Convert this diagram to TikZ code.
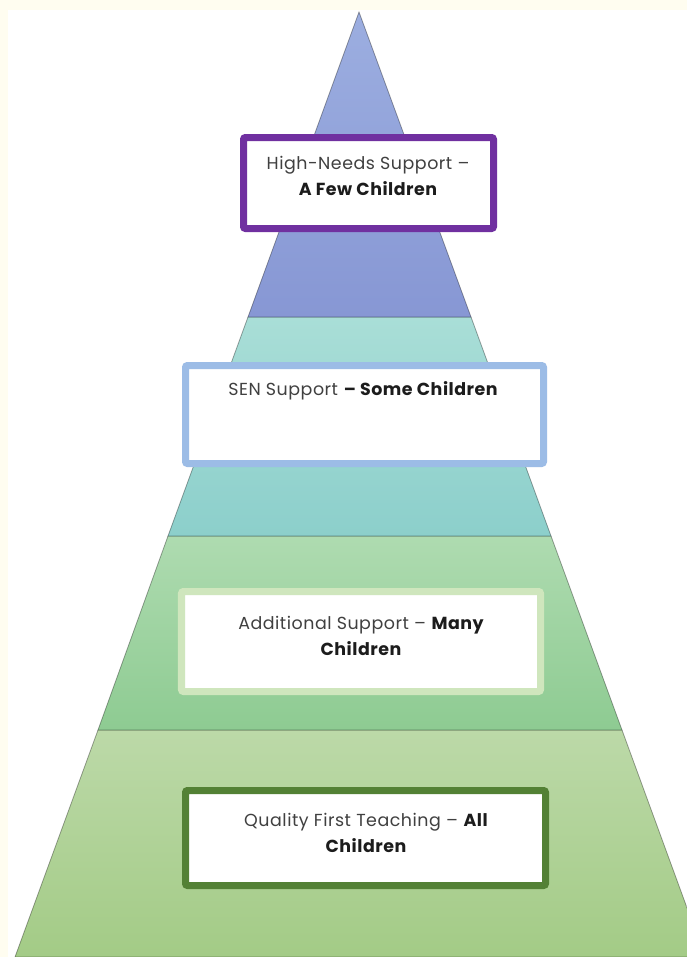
\documentclass[tikz,border=0pt]{standalone}
\usepackage{fontspec}
\newfontfamily\myfont[LetterSpace=3]{Poppins}
\definecolor{cream}{HTML}{FFFDF0}
\definecolor{tAtop}{HTML}{9CAEE0}
\definecolor{tAbot}{HTML}{8797D4}
\definecolor{tBtop}{HTML}{A9DED7}
\definecolor{tBbot}{HTML}{8CCFCB}
\definecolor{tCtop}{HTML}{AEDBB0}
\definecolor{tCbot}{HTML}{8ECB92}
\definecolor{tDtop}{HTML}{BCD9A8}
\definecolor{tDbot}{HTML}{A3CB86}
\definecolor{cPurple}{HTML}{7030A0}
\definecolor{cSky}{HTML}{9CBCE6}
\definecolor{cPale}{HTML}{CFE6BD}
\definecolor{cDark}{HTML}{538135}
\definecolor{txtReg}{HTML}{404040}
\definecolor{txtBold}{HTML}{1C1C1C}
\tikzset{
  tier/.style={draw=black, draw opacity=0.35, line width=0.8bp},
  labelbox/.style={fill=white, line width=7bp, rounded corners=2bp, inner sep=0pt},
  lbl/.style={font=\myfont\fontsize{17.5}{26}\selectfont, text=txtReg, align=center, inner sep=0pt},
}
\newcommand\bt[1]{\textbf{\color{txtBold}#1}}
\begin{document}
\begin{tikzpicture}[x=1bp,y=-1bp]
\useasboundingbox (0,0) rectangle (687,957);
\clip (0,0) rectangle (687,957);
\fill[cream] (0,0) rectangle (687,957);
\fill[white] (8,10) rectangle (687,957);
% tiers
\shade[tier, top color=tDtop, bottom color=tDbot] (98,730) -- (622,730) -- (705,957) -- (15,957) -- cycle;
\shade[tier, top color=tCtop, bottom color=tCbot] (168,536) -- (551,536) -- (622,730) -- (98,730) -- cycle;
\shade[tier, top color=tBtop, bottom color=tBbot] (248,317) -- (471,317) -- (551,536) -- (168,536) -- cycle;
\shade[tier, top color=tAtop, bottom color=tAbot] (359,12) -- (471,317) -- (248,317) -- cycle;
% boxes
\node[labelbox, draw=cPurple, minimum width=250bp, minimum height=91bp] (hn) at (368.5,183) {};
\node[labelbox, draw=cSky, minimum width=358bp, minimum height=98bp] (sen) at (364.5,414.5) {};
\node[labelbox, draw=cPale, minimum width=359bp, minimum height=100bp] (add) at (361,641.5) {};
\node[labelbox, draw=cDark, minimum width=360bp, minimum height=95bp] (qft) at (365.5,838) {};
% texts
\node[lbl] (hnt) at (368,176) {High-Needs Support –\\\bt{A Few Children}};
\node[lbl] (sent) at (363,391) {SEN Support \bt{– Some Children}};
\node[lbl] (addt) at (361,636) {Additional Support – \bt{Many}\\\bt{Children}};
\node[lbl] (qftt) at (366,833) {Quality First Teaching – \bt{All}\\\bt{Children}};
\end{tikzpicture}
\end{document}
